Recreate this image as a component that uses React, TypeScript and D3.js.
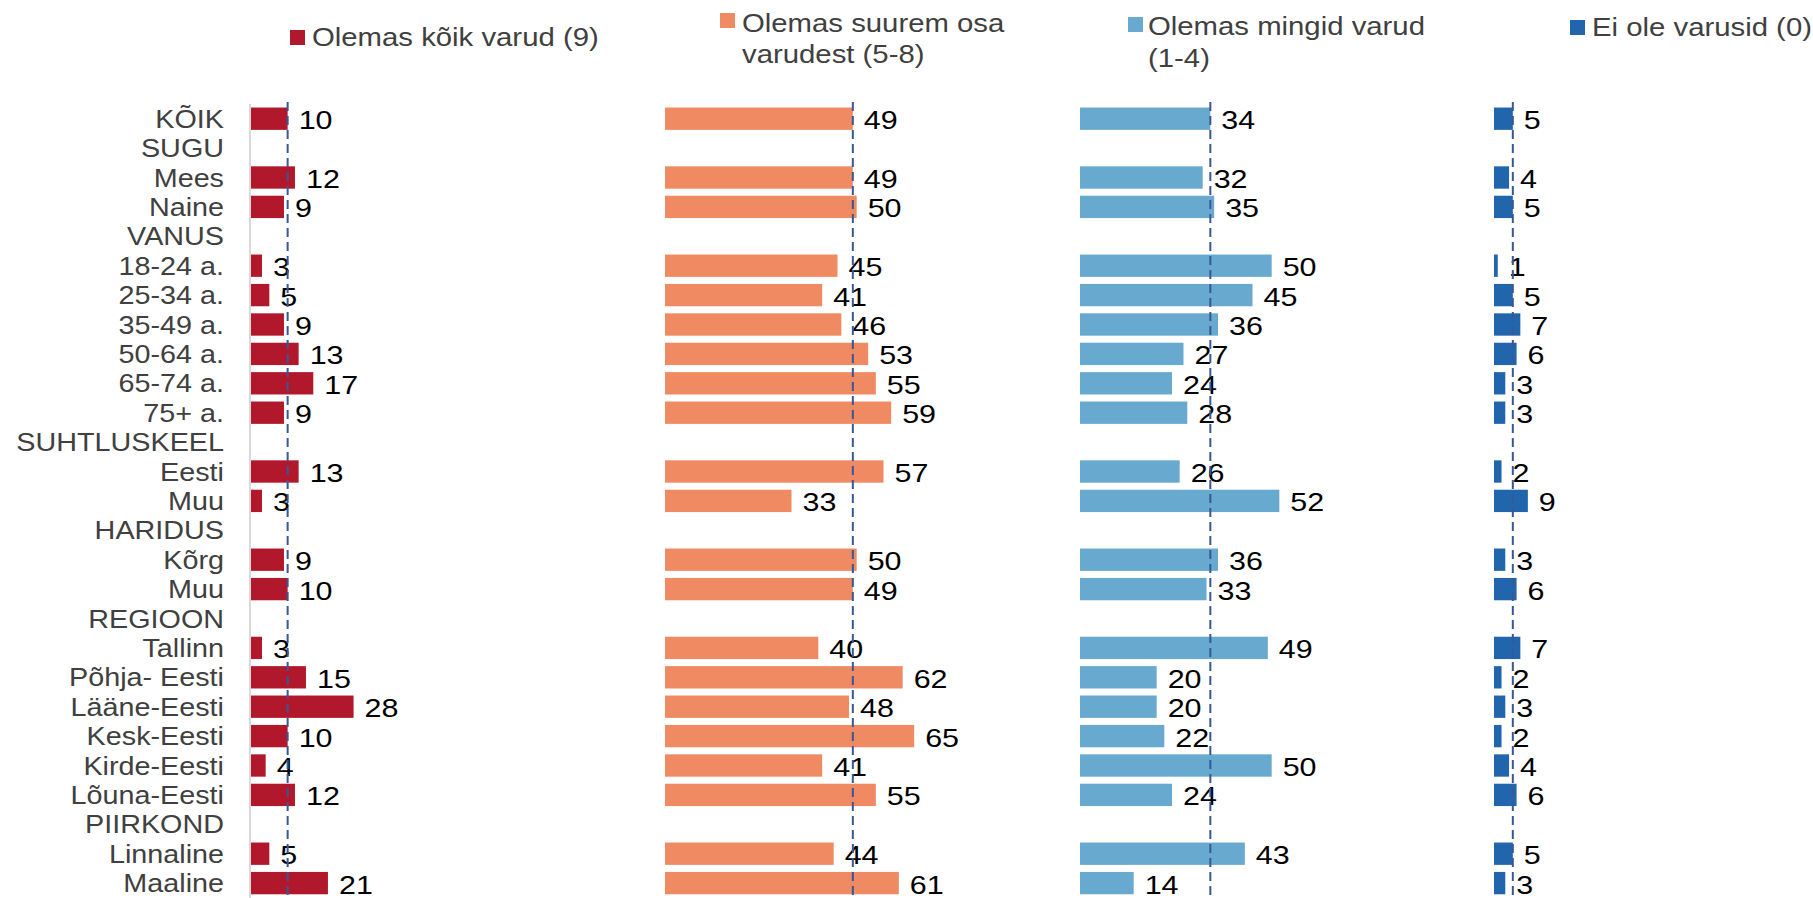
import React from 'react';
import * as d3 from 'd3';

// Row labels (group headers have no bars)
const CATEGORIES = [
  'KÕIK', 'SUGU', 'Mees', 'Naine', 'VANUS', '18-24 a.', '25-34 a.', '35-49 a.',
  '50-64 a.', '65-74 a.', '75+ a.', 'SUHTLUSKEEL', 'Eesti', 'Muu', 'HARIDUS',
  'Kõrg', 'Muu ', 'REGIOON', 'Tallinn', 'Põhja- Eesti', 'Lääne-Eesti', 'Kesk-Eesti',
  'Kirde-Eesti', 'Lõuna-Eesti', 'PIIRKOND', 'Linnaline', 'Maaline'
];
const HEADERS = ['SUGU', 'VANUS', 'SUHTLUSKEEL', 'HARIDUS', 'REGIOON', 'PIIRKOND'];

// Values for the rows that have bars, in order
const BAR_ROWS = CATEGORIES.filter(c => !HEADERS.includes(c));
const ALL_STOCKS = [10, 12, 9, 3, 5, 9, 13, 17, 9, 13, 3, 9, 10, 3, 15, 28, 10, 4, 12, 5, 21];
const MOST_STOCKS = [49, 49, 50, 45, 41, 46, 53, 55, 59, 57, 33, 50, 49, 40, 62, 48, 65, 41, 55, 44, 61];
const SOME_STOCKS = [34, 32, 35, 50, 45, 36, 27, 24, 28, 26, 52, 36, 33, 49, 20, 20, 22, 50, 24, 43, 14];
const NO_STOCKS = [5, 4, 5, 1, 5, 7, 6, 3, 3, 2, 9, 3, 6, 7, 2, 3, 2, 4, 6, 5, 3];

const SERIES = [
  { name: ['Olemas kõik varud (9)'], values: ALL_STOCKS, color: '#B2182B' },
  { name: ['Olemas suurem osa', 'varudest (5-8)'], values: MOST_STOCKS, color: '#EF8A62' },
  { name: ['Olemas mingid varud', '(1-4)'], values: SOME_STOCKS, color: '#67A9CF' },
  { name: ['Ei ole varusid (0)'], values: NO_STOCKS, color: '#2166AC' },
];

// layout
const W = 1813;
const H = 898;
const PANEL_X = [251, 665, 1080, 1494];
const PANEL_MAX = [113, 108, 108, 110];
const PANEL_W = 414;
const LEGEND_SQ = [[290, 30], [720, 13], [1128, 17], [1570, 20]];
const LEGEND_TX = [312, 742, 1148, 1592];
const LEGEND_BASE = [[46], [31.5, 63], [35, 67], [36]];
const FONT = '"Liberation Sans", Arial, sans-serif';
const SX = 1.15; // text in the source is a bit wide

const SText: React.FC<{ x: number; y: number; size: number; fill: string; anchor?: string; children: React.ReactNode }> =
  ({ x, y, size, fill, anchor = 'start', children }) => (
    <text transform={`translate(${x},${y}) scale(${SX},1)`} fontSize={size} fill={fill}
      textAnchor={anchor} fontFamily={FONT}>{children}</text>
  );

const App: React.FC = () => {
  const y = d3.scaleBand<number>()
    .domain(d3.range(CATEGORIES.length))
    .range([104, 104 + CATEGORIES.length * 29.4])
    .paddingInner(0.24)
    .paddingOuter(0.12);
  const bw = y.bandwidth();

  const rowIndex = BAR_ROWS.map(r => CATEGORIES.indexOf(r));

  return (
    <svg width={W} height={H} style={{ position: 'absolute', left: 0, top: 0, display: 'block', background: '#fff' }}>
      {/* legend */}
      {SERIES.map((s, i) => (
        <g key={'lg' + i}>
          <rect x={LEGEND_SQ[i][0]} y={LEGEND_SQ[i][1]} width={15} height={15} fill={s.color} />
          {s.name.map((line, j) => (
            <SText key={j} x={LEGEND_TX[i]} y={LEGEND_BASE[i][j]} size={25.5} fill="#404040">{line}</SText>
          ))}
        </g>
      ))}

      {/* category labels */}
      {CATEGORIES.map((c, i) => (
        <SText key={'c' + i} x={224} y={(y(i) as number) + bw / 2 + 9} size={25} fill="#404040" anchor="end">
          {c.trim()}
        </SText>
      ))}

      {/* axis line of first panel */}
      <line x1={250} x2={250} y1={104} y2={H} stroke="#D9D9D9" strokeWidth={2} />

      {SERIES.map((s, p) => {
        const x = d3.scaleLinear().domain([0, PANEL_MAX[p]]).range([PANEL_X[p], PANEL_X[p] + PANEL_W]);
        const ref = x(s.values[0]);
        return (
          <g key={'p' + p}>
            {s.values.map((v, k) => {
              const yy = y(rowIndex[k]) as number;
              return (
                <g key={k}>
                  <rect x={x(0)} y={yy} width={x(v) - x(0)} height={bw} fill={s.color} />
                  <SText x={x(v) + 11} y={yy + bw / 2 + 10.5} size={26.5} fill="#000">{v}</SText>
                </g>
              );
            })}
            <line x1={ref} x2={ref} y1={102} y2={H} stroke="#3A5795" strokeWidth={2} strokeDasharray="9,5" />
          </g>
        );
      })}
    </svg>
  );
};

export default App;
